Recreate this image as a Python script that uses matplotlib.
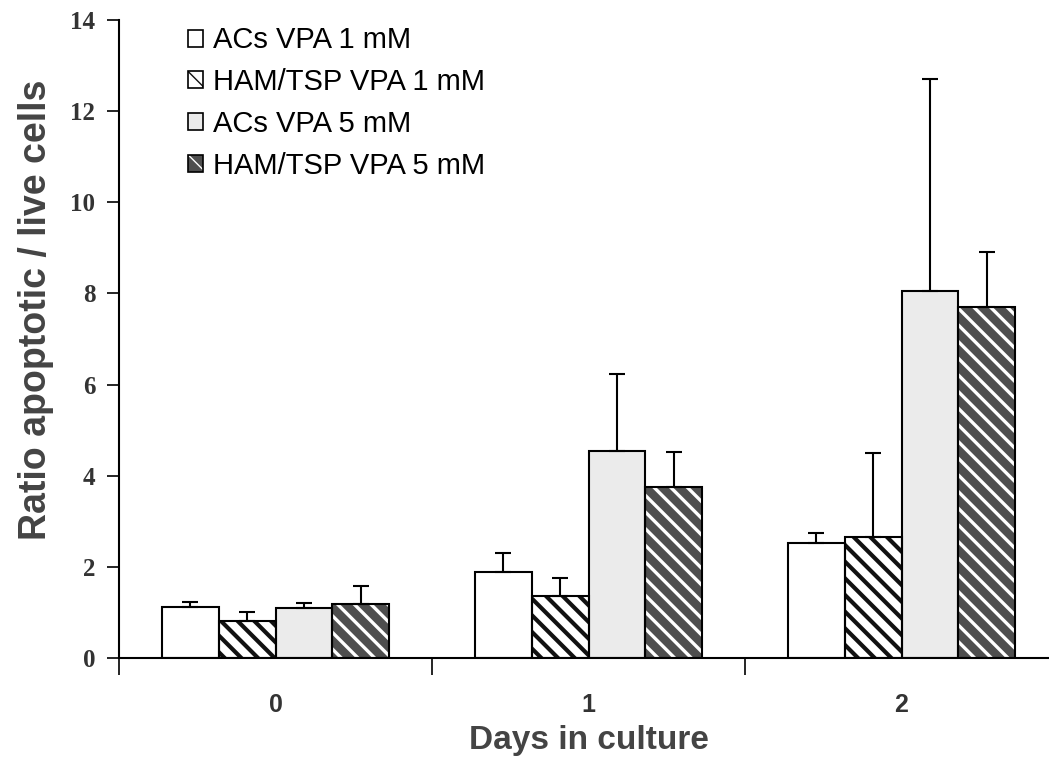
import numpy as np
import matplotlib
matplotlib.use('Agg')
import matplotlib.pyplot as plt
from matplotlib.patches import Patch
from matplotlib.legend_handler import HandlerTuple

days = ['0', '1', '2']
series = ['ACs VPA 1 mM', 'HAM/TSP VPA 1 mM', 'ACs VPA 5 mM', 'HAM/TSP VPA 5 mM']
means = [
    [1.12, 1.89, 2.52],   # ACs VPA 1 mM
    [0.81, 1.36, 2.65],   # HAM/TSP VPA 1 mM
    [1.10, 4.54, 8.05],   # ACs VPA 5 mM
    [1.18, 3.75, 7.70],   # HAM/TSP VPA 5 mM
]
errors = [
    [0.11, 0.41, 0.22],
    [0.20, 0.39, 1.85],
    [0.11, 1.69, 4.65],
    [0.40, 0.77, 1.20],
]

fig = plt.figure(figsize=(10.49, 7.63), dpi=100)
ax = fig.add_axes([119/1049, 105/763, 939/1049, 638/763])

x = np.arange(len(days))
w = 0.182
offsets = [-1.5, -0.5, 0.5, 1.5]
face = ['white', 'white', '#ebebeb', '#4e4e4e']
hatch = [None, '\\\\', None, '\\\\']
hcol = ['black', '#111111', 'black', 'white']
hlw = [1, 3.0, 1, 2.4]

legend_handles = []
for i in range(4):
    pos = x + offsets[i] * w
    with plt.rc_context({'hatch.linewidth': hlw[i]}):
        ax.bar(pos, means[i], w, color=face[i], hatch=hatch[i], edgecolor=hcol[i],
               linewidth=0, zorder=2)
        fill = Patch(facecolor=face[i], edgecolor=hcol[i], hatch=hatch[i], linewidth=0)
    ax.bar(pos, means[i], w, fill=False, edgecolor='black', linewidth=1.5, zorder=3)
    ax.errorbar(pos, means[i], yerr=[np.zeros(3), errors[i]], fmt='none',
                ecolor='black', elinewidth=1.5, capsize=6, capthick=1.5, zorder=4)
    legend_handles.append((fill, Patch(fill=False, edgecolor='black', linewidth=1.2)))

ax.set_xlim(-0.5, 2.5)
ax.set_ylim(0, 14)
ax.set_yticks(range(0, 15, 2))
ax.set_yticklabels([str(v) for v in range(0, 15, 2)], family='Liberation Serif',
                   fontweight='bold', fontsize=18, color='#333333')
ax.set_xticks(x)
ax.set_xticklabels(days, family='Liberation Sans', fontweight='bold', fontsize=18,
                   color='#333333')
ax.set_xticks([-0.5, 0.5, 1.5, 2.5], minor=True)
ax.tick_params(axis='x', which='major', length=0, pad=25)
ax.tick_params(axis='x', which='minor', length=12, width=1.2, direction='out')
ax.tick_params(axis='y', length=9, width=1.2, direction='out', pad=8)

for s in ['top', 'right']:
    ax.spines[s].set_visible(False)
for s in ['left', 'bottom']:
    ax.spines[s].set_linewidth(1.5)

ax.set_ylabel('Ratio apoptotic / live cells', family='Liberation Sans',
              fontweight='bold', fontsize=27, color='#444444')
ax.yaxis.set_label_coords(-0.069, 0.545)
ax.set_xlabel('Days in culture', family='Liberation Sans', fontweight='bold',
              fontsize=24, color='#444444', labelpad=6)

ax.legend(legend_handles, series, loc='upper left', bbox_to_anchor=(0.073, 0.99),
          frameon=False, prop={'family': 'Liberation Sans', 'size': 21},
          handler_map={tuple: HandlerTuple(ndivide=1, pad=0)},
          handlelength=0.52, handleheight=0.52, handletextpad=0.35,
          labelspacing=0.47, borderaxespad=0, borderpad=0)

fig.savefig('out.png', dpi=100)
